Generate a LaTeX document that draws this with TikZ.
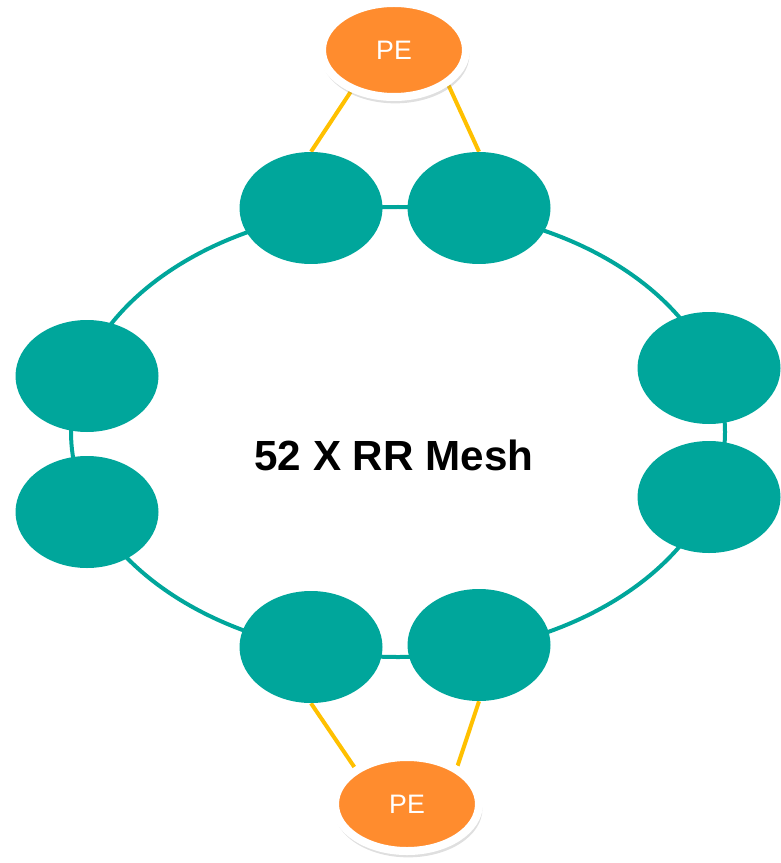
\documentclass[tikz,border=0pt]{standalone}
\usepackage{fontspec}
\setmainfont{Liberation Sans}
\usetikzlibrary{shapes.geometric, shadows, backgrounds}

\definecolor{rrteal}{RGB}{0,166,155}
\definecolor{peorange}{RGB}{255,140,46}
\definecolor{linkyellow}{RGB}{255,192,0}

\begin{document}
\begin{tikzpicture}
    % Styles for routers and links
    \tikzstyle{router} = [ellipse, fill=rrteal, minimum width=3.575cm, minimum height=2.8cm, inner sep=0pt]
    \tikzstyle{peer} = [ellipse, fill=peorange, draw=white, line width=0.2cm, minimum width=3.6cm, minimum height=2.35cm, inner sep=0pt, text=white, font=\fontsize{19}{22}\selectfont, drop shadow={opacity=0.25, shadow scale=1.03, shadow xshift=0.03cm, shadow yshift=-0.12cm}]
    \tikzstyle{uplink} = [linkyellow, line width=0.1cm]
    \tikzstyle{mesh} = [ellipse, draw=rrteal, line width=0.1cm, minimum width=16.35cm, minimum height=11.25cm, inner sep=0pt]

    \useasboundingbox (0,0) rectangle (19.5,-21.575);

    % RR nodes
    \node[router] (topl) at (7.775,-5.2) {};
    \node[router] (topr) at (11.975,-5.2) {};
    \node[router] (leftu) at (2.175,-9.4) {};
    \node[router] (leftd) at (2.175,-12.8) {};
    \node[router] (rightu) at (17.725,-9.2) {};
    \node[router] (rightd) at (17.725,-12.425) {};
    \node[router] (botl) at (7.775,-16.175) {};
    \node[router] (botr) at (11.975,-16.125) {};

    % PE nodes
    \node[peer] (petop) at (9.85,-1.25) {PE};
    \node[peer] (pebot) at (10.175,-20.1) {PE};

    % Label in the middle
    \node[font=\fontsize{30}{34}\selectfont\bfseries] (label) at (9.85,-11.375) {52 X RR Mesh};

    % Ring and links
    \begin{scope}[on background layer]
        \node[mesh] (ring) at (9.95,-10.8) {};
        \draw[uplink] (petop.224) -- (topl.90);
        \draw[uplink] (petop.-33) -- (topr.90);
        \draw[uplink] (pebot.145) -- (botl.-90);
        \draw[uplink] (pebot.37) -- (botr.-90);
    \end{scope}
\end{tikzpicture}
\end{document}
